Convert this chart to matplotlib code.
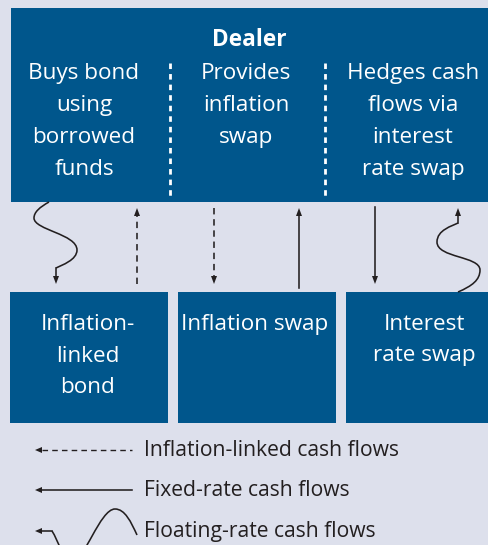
import matplotlib
matplotlib.use("Agg")
import matplotlib.pyplot as plt
from matplotlib.patches import Rectangle, Polygon, PathPatch
from matplotlib.path import Path

plt.rcParams['font.family'] = ['Open Sans', 'DejaVu Sans']

# colours
BG = '#dde0ec'
BLUE = '#00568c'
INK = '#231f20'

# text content
dealer_title = "Dealer"
dealer_cols = [
    ["Buys bond", "using", "borrowed", "funds"],
    ["Provides", "inflation", "swap"],
    ["Hedges cash", "flows via", "interest", "rate swap"],
]
bottom_boxes = [
    ["Inflation-", "linked", "bond"],
    ["Inflation swap"],
    ["Interest", "rate swap"],
]
legend_labels = ["Inflation-linked cash flows", "Fixed-rate cash flows", "Floating-rate cash flows"]
legend_y = [450, 490, 531]

# layout (pixel coordinates, y downwards)
dealer_box = (11, 8, 500, 194)           # x, y, w, h
dealer_cx = [84, 246, 413]
divider_x = [170, 325]
bottom_x = [(10, 168), (178, 336), (346, 500)]
bottom_cx = [88, 255, 424]
bottom_top, bottom_bot = 292, 423

fig = plt.figure(figsize=(4.89, 5.45), dpi=100)
fig.patch.set_facecolor(BG)
ax = fig.add_axes([0, 0, 1, 1])
ax.set_xlim(0, 489)
ax.set_ylim(545, 0)
ax.axis('off')
ax.set_facecolor(BG)


def head(x, y, d, size=8, half=3):
    # little filled arrow head, d = 'up' / 'down' / 'left'
    if d == 'down':
        pts = [(x, y), (x - half, y - size), (x + half, y - size)]
    elif d == 'up':
        pts = [(x, y), (x - half, y + size), (x + half, y + size)]
    else:
        pts = [(x, y), (x + size, y - half), (x + size, y + half)]
    ax.add_patch(Polygon(pts, closed=True, color=INK, lw=0, zorder=5))


def curve(verts):
    codes = [Path.MOVETO] + [Path.CURVE4] * (len(verts) - 1)
    ax.add_patch(PathPatch(Path(verts, codes), fill=False, ec=INK, lw=1.15, zorder=4))


# dealer box
x, y, w, h = dealer_box
ax.add_patch(Rectangle((x, y), w, h, color=BLUE, lw=0))
ax.text(249, 45.5, dealer_title, color='white', fontsize=16.3, fontweight='bold',
        ha='center', va='baseline')
for cx, lines in zip(dealer_cx, dealer_cols):
    for i, s in enumerate(lines):
        ax.text(cx, 79 + i * 32, s, color='white', fontsize=16.2, ha='center', va='baseline')
for dx in divider_x:
    ax.plot([dx, dx], [63, 197], color='white', lw=2.0, ls=(0, (2.0, 1.8)))

# bottom boxes
for (x0, x1), cx, lines in zip(bottom_x, bottom_cx, bottom_boxes):
    ax.add_patch(Rectangle((x0, bottom_top), x1 - x0, bottom_bot - bottom_top, color=BLUE, lw=0))
    for i, s in enumerate(lines):
        ax.text(cx, 330 + i * 31.5, s, color='white', fontsize=16.2, ha='center', va='baseline')

# straight arrows: x, y_from, y_to, dashed
straight = [
    (137, 284, 208, True),
    (214, 208, 284, True),
    (299, 288, 208, False),
    (375, 207, 284, False),
]
for sx, y0, y1, dashed in straight:
    d = 'down' if y1 > y0 else 'up'
    stop = y1 - 7 if d == 'down' else y1 + 7
    ax.plot([sx, sx], [y0, stop], color=INK, lw=1.15,
            ls=(0, (4, 3)) if dashed else '-')
    head(sx, y1, d)

# wavy arrows
curve([(49, 202), (40, 207), (34, 212), (34, 218),
       (34, 230), (77, 234), (77, 250),
       (77, 260), (62, 265), (56, 268)])
ax.plot([56, 56], [268, 277], color=INK, lw=1.15)
head(56, 284, 'down')

curve([(458, 292), (472, 286), (480, 280), (480, 270),
       (480, 256), (437, 258), (437, 242),
       (437, 230), (452, 226), (458, 223)])
ax.plot([458, 458], [223, 215], color=INK, lw=1.15)
head(458, 208, 'up')

# legend
ax.plot([42, 132], [legend_y[0]] * 2, color=INK, lw=1.0, ls=(0, (4, 3)))
ax.plot([42, 132], [legend_y[1]] * 2, color=INK, lw=1.15)
ax.plot([42, 52], [legend_y[2]] * 2, color=INK, lw=1.15)
for ly in legend_y:
    head(35, ly, 'left', size=7)
curve([(52, 531), (58, 540), (64, 562), (72, 562),
       (84, 562), (100, 509), (115, 509),
       (125, 509), (131, 522), (137, 535)])

for ly, s in zip(legend_y, legend_labels):
    ax.text(144, ly + 6, s, color=INK, fontsize=15.2, ha='left', va='baseline')

fig.savefig('out.png', dpi=100, facecolor=BG)
